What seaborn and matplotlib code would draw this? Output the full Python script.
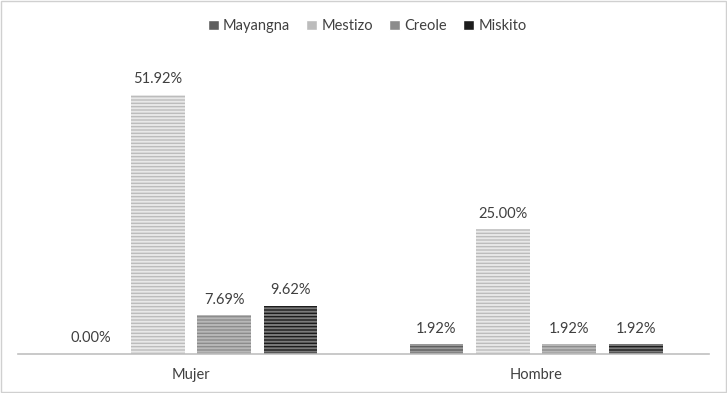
import pandas as pd
import seaborn as sns
import matplotlib.pyplot as plt

sexo = ["Mujer", "Hombre"]
etnias = ["Mayangna", "Mestizo", "Creole", "Miskito"]
mayangna = [0.00, 1.92]
mestizo = [51.92, 25.00]
creole = [7.69, 1.92]
miskito = [9.62, 1.92]

colores = ["#5e5e5e", "#bcbcbc", "#8c8c8c", "#1c1c1c"]
rayas = ["#9a9a9a", "#e8e8e8", "#b8b8b8", "#7a7a7a"]

df = pd.DataFrame({"sexo": sexo * 4,
                   "etnia": [e for e in etnias for _ in sexo],
                   "pct": mayangna + mestizo + creole + miskito})

sns.set_theme(style="white")
plt.rcParams["font.family"] = ["Lato", "DejaVu Sans"]
plt.rcParams["hatch.linewidth"] = 1.4

fig = plt.figure(figsize=(7.27, 3.93), dpi=100)
ax = fig.add_axes([0.025, 0.1, 0.95, 0.762])
sns.barplot(data=df, x="sexo", y="pct", hue="etnia", hue_order=etnias,
            palette=colores, width=0.77, gap=0.19, ax=ax, legend=True)

for cont, c_raya in zip(ax.containers, rayas):
    for bar in cont:
        bar.set_hatch("-----")
        bar.set_edgecolor(c_raya)
        bar.set_linewidth(0)
    ax.bar_label(cont, labels=[f"{v:.2f}%" for v in cont.datavalues],
                 padding=6, fontsize=10.5, color="#404040")

ax.set_ylim(0, 60)
ax.set_xlim(-0.5, 1.5)
ax.set_xlabel("")
ax.set_ylabel("")
ax.set_yticks([])
ax.tick_params(axis="x", labelsize=10.5, labelcolor="#404040", length=0, pad=10)
for s in ["top", "right", "left"]:
    ax.spines[s].set_visible(False)
ax.spines["bottom"].set_color("#c0c0c0")
ax.spines["bottom"].set_linewidth(1.2)

handles, labels = ax.get_legend_handles_labels()
ax.get_legend().remove()
fig.legend(handles, labels, loc="upper center", bbox_to_anchor=(0.505, 0.985),
           ncol=4, frameon=False, fontsize=10.5, labelcolor="#404040",
           handlelength=0.75, handleheight=0.75, handletextpad=0.3, columnspacing=1.1)

fig.patches.append(plt.Rectangle((0.002, 0.003), 0.996, 0.994, transform=fig.transFigure,
                                 fill=False, edgecolor="#d0d0d0", linewidth=1))

fig.savefig("out.png", dpi=100)
